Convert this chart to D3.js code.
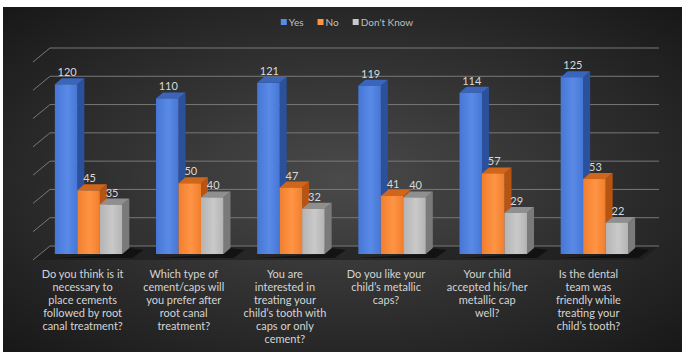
<!DOCTYPE html>
<html>
<head>
<meta charset="utf-8">
<script src="https://cdn.jsdelivr.net/npm/d3@7"></script>
<style>
  html, body { margin: 0; padding: 0; background: #ffffff; }
  #chart { width: 682px; height: 352px; }
  text { font-family: Lato, "Open Sans", sans-serif; }
</style>
</head>
<body>
<div id="chart"></div>
<script>
// Chart data
var categories = [
  ["Do you think is it", "necessary to", "place cements", "followed by root", "canal treatment?"],
  ["Which type of", "cement/caps will", "you prefer after", "root canal", "treatment?"],
  ["You are", "interested in", "treating your", "child\u2019s tooth with", "caps or only", "cement?"],
  ["Do you like your", "child\u2019s metallic", "caps?"],
  ["Your child", "accepted his/her", "metallic cap", "well?"],
  ["Is the dental", "team was", "friendly while", "treating your", "child\u2019s tooth?"]
];
var seriesNames = ["Yes", "No", "Don't Know"];
var yesValues = [120, 110, 121, 119, 114, 125];
var noValues = [45, 50, 47, 41, 57, 53];
var dontKnowValues = [35, 40, 32, 40, 29, 22];
var gridValues = [0, 20, 40, 60, 80, 100, 120, 140];

var seriesValues = [yesValues, noValues, dontKnowValues];

// Canvas size
var width = 682;
var height = 352;

// 3D look: bar depth and wall depth offsets
var barDx = 7;
var barDy = 6;
var wallBackDx = 12;
var wallBackDy = 8;
var sideDx = 17;
var sideDy = 14;

// Face colours per series: front, side, top
var colors = [
  { front: "#4677d6", side: "#2c519c", top: "#3a65bd", light: "#5a8ae6" },
  { front: "#f07f2e", side: "#b85412", top: "#d0661c", light: "#ff9445" },
  { front: "#b4b4b4", side: "#7a7a7a", top: "#8f8f8f", light: "#c9c9c9" }
];

var svg = d3
  .select("#chart")
  .append("svg")
  .attr("width", width)
  .attr("height", height);

var defs = svg.append("defs");

// Dark background gradient
var bgGrad = defs
  .append("radialGradient")
  .attr("id", "bgGrad")
  .attr("cx", "50%")
  .attr("cy", "50%")
  .attr("r", "70%");
bgGrad.append("stop").attr("offset", "0%").attr("stop-color", "#4a4a4a");
bgGrad.append("stop").attr("offset", "100%").attr("stop-color", "#181818");

// Front face gradients for the bars
colors.forEach(function(c, i) {
  var g = defs
    .append("linearGradient")
    .attr("id", "front" + i)
    .attr("x1", "0%")
    .attr("x2", "100%");
  g.append("stop").attr("offset", "0%").attr("stop-color", c.front);
  g.append("stop").attr("offset", "55%").attr("stop-color", c.light);
  g.append("stop").attr("offset", "100%").attr("stop-color", c.front);
});

svg
  .append("rect")
  .attr("x", 3)
  .attr("y", 7)
  .attr("width", width - 3)
  .attr("height", height - 7)
  .attr("fill", "url(#bgGrad)");

// Scales
var xScale = d3
  .scaleBand()
  .domain(d3.range(categories.length))
  .range([38, 645])
  .paddingInner(0.333)
  .paddingOuter(0.1667);

var xInner = d3
  .scaleBand()
  .domain(d3.range(seriesNames.length))
  .range([0, xScale.bandwidth()]);

var yScale = d3.scaleLinear().domain([0, 140]).range([254, 56]);

// Floor
var floorY = yScale(0);
svg
  .append("path")
  .attr("d",
    "M" + (38 - 5) + "," + (floorY + 6) +
    "L" + (38 - 5 + sideDx) + "," + (floorY + 6 - sideDy) +
    "L" + (659) + "," + (floorY + 6 - sideDy) +
    "L" + (659 - sideDx) + "," + (floorY + 6) + "Z")
  .attr("fill", "#1b1b1b")
  .attr("opacity", 0.6);

// Back wall gridlines and left wall diagonals
var grid = svg.append("g").attr("class", "grid");
grid
  .selectAll("line.back")
  .data(gridValues)
  .enter()
  .append("line")
  .attr("class", "back")
  .attr("x1", 38 + wallBackDx)
  .attr("x2", 659)
  .attr("y1", function(d) { return yScale(d) - wallBackDy; })
  .attr("y2", function(d) { return yScale(d) - wallBackDy; })
  .attr("stroke", "#787878")
  .attr("stroke-width", 1);

grid
  .selectAll("line.side")
  .data(gridValues)
  .enter()
  .append("line")
  .attr("class", "side")
  .attr("x1", 33)
  .attr("x2", 33 + sideDx)
  .attr("y1", function(d) { return yScale(d) + 6; })
  .attr("y2", function(d) { return yScale(d) + 6 - sideDy; })
  .attr("stroke", "#787878")
  .attr("stroke-width", 1);

// Bar shadows on the floor
var shadows = svg.append("g").attr("class", "shadows");
categories.forEach(function(cat, ci) {
  var x0 = xScale(ci);
  shadows
    .append("path")
    .attr("d",
      "M" + (x0 + xScale.bandwidth()) + "," + floorY +
      "L" + (x0 + xScale.bandwidth() + barDx) + "," + (floorY - barDy) +
      "L" + (x0 + xScale.bandwidth() + barDx + 14) + "," + (floorY - barDy + 2) +
      "L" + (x0 + xScale.bandwidth() + 10) + "," + (floorY + 4) +
      "L" + (x0 - 2) + "," + (floorY + 4) + "Z")
    .attr("fill", "#0c0c0c")
    .attr("opacity", 0.7);
});

// Bars, drawn left to right so nearer faces cover the sides
var bars = svg.append("g").attr("class", "bars");
categories.forEach(function(cat, ci) {
  seriesValues.forEach(function(vals, si) {
    var v = vals[ci];
    var x0 = xScale(ci) + xInner(si);
    var x1 = x0 + xInner.bandwidth();
    var yt = yScale(v);
    var yb = yScale(0);
    var c = colors[si];

    // Side face
    bars
      .append("path")
      .attr("d",
        "M" + x1 + "," + yt +
        "L" + (x1 + barDx) + "," + (yt - barDy) +
        "L" + (x1 + barDx) + "," + (yb - barDy) +
        "L" + x1 + "," + yb + "Z")
      .attr("fill", c.side);

    // Top face
    bars
      .append("path")
      .attr("d",
        "M" + x0 + "," + yt +
        "L" + (x0 + barDx) + "," + (yt - barDy) +
        "L" + (x1 + barDx) + "," + (yt - barDy) +
        "L" + x1 + "," + yt + "Z")
      .attr("fill", c.top);

    // Front face
    bars
      .append("rect")
      .attr("x", x0)
      .attr("y", yt)
      .attr("width", xInner.bandwidth())
      .attr("height", yb - yt)
      .attr("fill", "url(#front" + si + ")");
  });
});

// Value labels above each bar
var valueLabels = svg.append("g").attr("class", "values");
categories.forEach(function(cat, ci) {
  seriesValues.forEach(function(vals, si) {
    var v = vals[ci];
    valueLabels
      .append("text")
      .attr("x", xScale(ci) + xInner(si) + xInner.bandwidth() / 2 + 1)
      .attr("y", yScale(v) - 8)
      .attr("text-anchor", "middle")
      .attr("font-size", 11)
      .attr("fill", "#d9d9d9")
      .text(v);
  });
});

// Category labels under each group
var catLabels = svg.append("g").attr("class", "categories");
categories.forEach(function(lines, ci) {
  var t = catLabels
    .append("text")
    .attr("text-anchor", "middle")
    .attr("font-size", 11)
    .attr("fill", "#d4d4d4");
  lines.forEach(function(line, li) {
    t.append("tspan")
      .attr("x", xScale(ci) + xScale.bandwidth() / 2 - 6)
      .attr("y", 278 + li * 13)
      .text(line);
  });
});

// Legend centred at the top
var legend = svg.append("g").attr("class", "legend");
var legendX = 0;
seriesNames.forEach(function(name, si) {
  var item = legend.append("g").attr("transform", "translate(" + legendX + ",0)");
  item
    .append("rect")
    .attr("x", 0)
    .attr("y", -7)
    .attr("width", 6)
    .attr("height", 6)
    .attr("fill", colors[si].light);
  var label = item
    .append("text")
    .attr("x", 8)
    .attr("y", 0)
    .attr("font-size", 10)
    .attr("fill", "#bfbfbf")
    .text(name);
  legendX += 8 + label.node().getComputedTextLength() + 14;
});
var legendWidth = legendX - 14;
legend.attr("transform", "translate(" + (347 - legendWidth / 2) + ",26)");
</script>
</body>
</html>
